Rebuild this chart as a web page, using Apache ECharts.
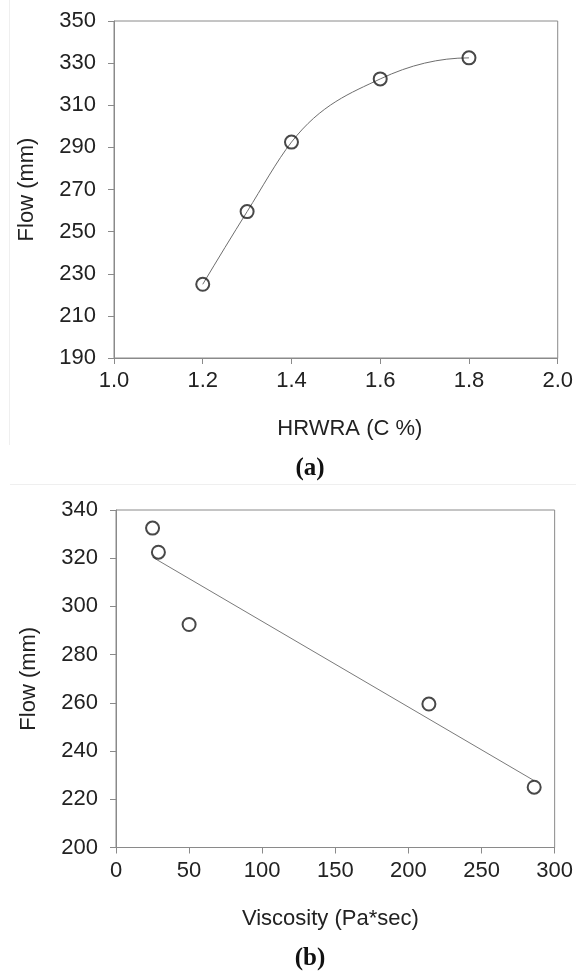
<!DOCTYPE html>
<html>
<head>
<meta charset="utf-8">
<script src="https://cdn.jsdelivr.net/npm/echarts@6/dist/echarts.min.js"></script>
<style>
  html, body { margin: 0; padding: 0; background: #fff; }
  #chart { width: 576px; height: 976px; }
</style>
</head>
<body>
<div id="chart"></div>
<script>
// Panel (a): flow against HRWRA dosage
const hrwraDose = [1.2, 1.3, 1.4, 1.6, 1.8];
const flowA = [225, 259.5, 292.5, 322.5, 332.5];
const hrwraTicks = [1.0, 1.2, 1.4, 1.6, 1.8, 2.0];
const flowTicksA = [190, 210, 230, 250, 270, 290, 310, 330, 350];

// Panel (b): flow against viscosity
const viscosity = [25, 29, 50, 214, 286];
const flowB = [332.5, 322.5, 292.5, 259.5, 225];
const viscTicks = [0, 50, 100, 150, 200, 250, 300];
const flowTicksB = [200, 220, 240, 260, 280, 300, 320, 340];

const AXIS_GREY = '#8a8a8a';
const TEXT = '#222222';
const SANS = '"Liberation Sans", Arial, sans-serif';

function zip(xs, ys) { return xs.map((x, i) => [x, ys[i]]); }

// least-squares straight line over the viscosity data, drawn across its x range
function linearFit(xs, ys) {
  const n = xs.length;
  const mx = xs.reduce((a, b) => a + b, 0) / n;
  const my = ys.reduce((a, b) => a + b, 0) / n;
  let sxy = 0, sxx = 0;
  for (let i = 0; i < n; i++) { sxy += (xs[i] - mx) * (ys[i] - my); sxx += (xs[i] - mx) ** 2; }
  const slope = sxy / sxx;
  const icpt = my - slope * mx;
  const x0 = Math.min(...xs), x1 = Math.max(...xs);
  return [[x0, icpt + slope * x0], [x1, icpt + slope * x1]];
}

// Smoothed connecting line for panel (a): piecewise cubic Hermite through the
// points, slopes from three-point parabolas, emitted as Bezier segments whose
// control points go through the axis scales with api.coord.
function renderSmoothCurve(params, api) {
  if (params.dataIndex !== 0) return null;
  const xs = hrwraDose, ys = flowA, n = xs.length;
  const h = [], d = [], m = [];
  for (let i = 0; i < n - 1; i++) {
    h[i] = xs[i + 1] - xs[i];
    d[i] = (ys[i + 1] - ys[i]) / h[i];
  }
  m[0] = ((2 * h[0] + h[1]) * d[0] - h[0] * d[1]) / (h[0] + h[1]);
  for (let i = 1; i < n - 1; i++) {
    m[i] = (h[i] * d[i - 1] + h[i - 1] * d[i]) / (h[i - 1] + h[i]);
  }
  m[n - 1] = ((2 * h[n - 2] + h[n - 3]) * d[n - 2] - h[n - 2] * d[n - 3]) / (h[n - 3] + h[n - 2]);

  const p0 = api.coord([xs[0], ys[0]]);
  let path = 'M' + p0[0] + ',' + p0[1];
  for (let i = 0; i < n - 1; i++) {
    const t = h[i] / 3;
    const c1 = api.coord([xs[i] + t, ys[i] + m[i] * t]);
    const c2 = api.coord([xs[i + 1] - t, ys[i + 1] - m[i + 1] * t]);
    const p = api.coord([xs[i + 1], ys[i + 1]]);
    path += ' C' + c1[0] + ',' + c1[1] + ' ' + c2[0] + ',' + c2[1] + ' ' + p[0] + ',' + p[1];
  }
  return {
    type: 'path',
    shape: { pathData: path },
    style: { fill: 'none', stroke: '#6e6e6e', lineWidth: 1 },
    silent: true
  };
}

function valueAxis(gridIndex, ticks, extra) {
  return Object.assign({
    type: 'value',
    gridIndex: gridIndex,
    min: ticks[0],
    max: ticks[ticks.length - 1],
    axisLine: { show: true, lineStyle: { color: AXIS_GREY, width: 1 } },
    axisTick: { show: true, inside: false, length: 6, customValues: ticks,
                lineStyle: { color: AXIS_GREY, width: 1 } },
    axisLabel: { customValues: ticks, color: TEXT, fontFamily: SANS, fontSize: 22 },
    splitLine: { show: false },
    nameLocation: 'middle',
    nameTextStyle: { color: TEXT, fontFamily: SANS, fontSize: 22 }
  }, extra);
}

const chart = echarts.init(document.getElementById('chart'), null, { renderer: 'canvas' });

chart.setOption({
  animation: false,
  backgroundColor: '#fff',
  grid: [
    { left: 114, top: 21, width: 447, height: 337, show: true,
      borderColor: AXIS_GREY, borderWidth: 1, backgroundColor: 'transparent' },
    { left: 116, top: 510, width: 443.5, height: 337.5, show: true,
      borderColor: AXIS_GREY, borderWidth: 1, backgroundColor: 'transparent' }
  ],
  xAxis: [
    valueAxis(0, hrwraTicks, {
      name: 'HRWRA (C %)', nameGap: 60,
      axisLabel: { customValues: hrwraTicks, color: TEXT, fontFamily: SANS, fontSize: 22,
                   margin: 12, formatter: v => v.toFixed(1) },
      nameTextStyle: { color: TEXT, fontFamily: SANS, fontSize: 22, padding: [0, 0, 0, 28] }
    }),
    valueAxis(1, viscTicks, {
      name: 'Viscosity (Pa*sec)', nameGap: 60,
      axisLabel: { customValues: viscTicks, color: TEXT, fontFamily: SANS, fontSize: 22, margin: 12 },
      nameTextStyle: { color: TEXT, fontFamily: SANS, fontSize: 22, padding: [0, 10, 0, 0] }
    })
  ],
  yAxis: [
    valueAxis(0, flowTicksA, {
      name: 'Flow (mm)', nameGap: 76,
      axisLabel: { customValues: flowTicksA, color: TEXT, fontFamily: SANS, fontSize: 22, margin: 18 }
    }),
    valueAxis(1, flowTicksB, {
      name: 'Flow (mm)', nameGap: 76,
      axisLabel: { customValues: flowTicksB, color: TEXT, fontFamily: SANS, fontSize: 22, margin: 18 }
    })
  ],
  series: [
    {
      type: 'custom', xAxisIndex: 0, yAxisIndex: 0,
      data: zip(hrwraDose, flowA),
      renderItem: renderSmoothCurve,
      clip: true, z: 2
    },
    {
      type: 'scatter', xAxisIndex: 0, yAxisIndex: 0,
      data: zip(hrwraDose, flowA),
      symbol: 'circle', symbolSize: 13,
      itemStyle: { color: 'rgba(0,0,0,0)', borderColor: '#1a1a1a', borderWidth: 2 }, z: 3
    },
    {
      type: 'line', xAxisIndex: 1, yAxisIndex: 1,
      data: linearFit(viscosity, flowB),
      symbol: 'none', showSymbol: false,
      lineStyle: { color: '#7a7a7a', width: 1 }, z: 2
    },
    {
      type: 'scatter', xAxisIndex: 1, yAxisIndex: 1,
      data: zip(viscosity, flowB),
      symbol: 'circle', symbolSize: 13,
      itemStyle: { color: '#ffffff', borderColor: '#1a1a1a', borderWidth: 2 }, z: 3
    }
  ],
  graphic: [
    { type: 'line', shape: { x1: 9.5, y1: 0, x2: 9.5, y2: 445 },
      style: { stroke: '#efefef', lineWidth: 1 }, silent: true },
    { type: 'line', shape: { x1: 10, y1: 484.5, x2: 576, y2: 484.5 },
      style: { stroke: '#efefef', lineWidth: 1 }, silent: true },
    { type: 'text', x: 310, y: 469,
      style: { text: '(a)', align: 'center', verticalAlign: 'middle',
               font: 'bold 25px "Liberation Serif", serif', fill: '#111' } },
    { type: 'text', x: 310, y: 959,
      style: { text: '(b)', align: 'center', verticalAlign: 'middle',
               font: 'bold 25px "Liberation Serif", serif', fill: '#111' } }
  ]
});
</script>
</body>
</html>
